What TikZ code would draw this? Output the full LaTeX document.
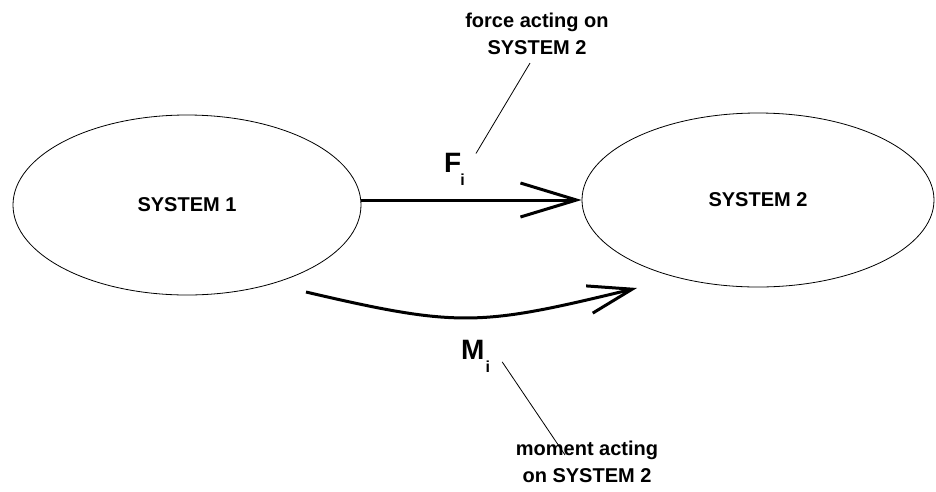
\documentclass[tikz,border=0pt]{standalone}
\usepackage{fontspec}
\setmainfont{Liberation Sans}
\usetikzlibrary{shapes.geometric, positioning, calc, arrows.meta}

\begin{document}
\begin{tikzpicture}[x=1pt, y=-1pt,
    sysnode/.style={draw, ellipse, line width=0.8pt, inner sep=0pt,
        font=\fontsize{20}{22}\selectfont\bfseries},
    bigarrow/.style={line width=3pt, -{Straight Barb[length=56pt, width=34pt]}},
    leader/.style={line width=0.8pt},
    note/.style={align=center, inner sep=1pt,
        font=\fontsize{20}{27}\selectfont\bfseries},
    quantity/.style={inner sep=1pt, font=\fontsize{28}{30}\selectfont\bfseries}]

    \useasboundingbox (0,0) rectangle (936,491);

    % ==========================================
    % The two systems
    % ==========================================
    \node[sysnode, minimum width=348pt, minimum height=180pt] (s1) at (187,205) {SYSTEM 1};
    \node[sysnode, minimum width=352pt, minimum height=174pt] (s2) at (758,200) {SYSTEM 2};

    % ==========================================
    % Force F_i (straight arrow)
    % ==========================================
    \draw[bigarrow] (s1.east |- s2.west) -- (s2.west);

    \node[quantity, anchor=base west] (fi) at (443,172)
        {F\kern-1pt\raisebox{-13pt}{\fontsize{16}{16}\selectfont i}};
    \node[note] (flabel) at (537,34) {force acting on\\SYSTEM 2};
    \draw[leader] ([shift={(10,2)}]fi.north east) -- ([shift={(-7,7)}]flabel.south);

    % ==========================================
    % Moment M_i (curved arrow)
    % ==========================================
    \coordinate (mstart) at (306,292);
    \coordinate (mend) at (637,288);
    \draw[bigarrow, -{Straight Barb[length=44pt, width=28pt]}]
        (mstart) .. controls (460,328) and (480,326) .. (mend);

    \node[quantity, anchor=base west] (mi) at (460,359)
        {M\kern1pt\raisebox{-13pt}{\fontsize{16}{16}\selectfont i}};
    \node[note] (mlabel) at (587,462) {moment acting\\on SYSTEM 2};
    \draw[leader] ([shift={(11,6)}]mi.east) -- ([shift={(-22,15)}]mlabel.north);

\end{tikzpicture}
\end{document}
